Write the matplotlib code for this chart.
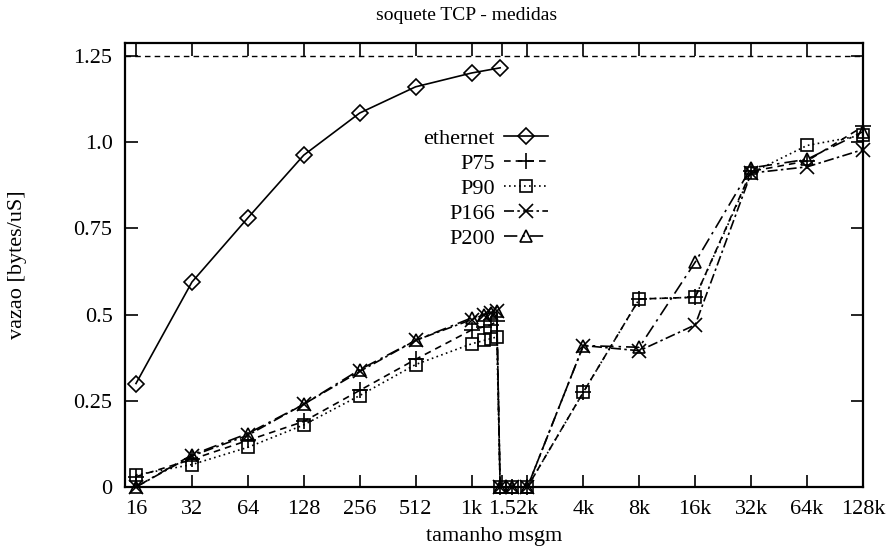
import matplotlib
matplotlib.use('Agg')
import matplotlib.pyplot as plt

plt.rcParams['font.family'] = ['Liberation Serif', 'DejaVu Serif']

# ---- data ----
sizes_eth = [16, 32, 64, 128, 256, 512, 1024, 1460]
ethernet = [0.30, 0.594, 0.78, 0.962, 1.084, 1.16, 1.20, 1.215]

sizes = [16, 32, 64, 128, 256, 512, 1024, 1200, 1300, 1400, 1460, 1700, 2048,
         4096, 8192, 16384, 32768, 65536, 131072]
p75 = [0.03, 0.08, 0.135, 0.19, 0.28, 0.37, 0.455, 0.465, 0.47, 0.48, 0.0, 0.0, 0.0,
       0.275, 0.545, 0.55, 0.915, 0.945, 1.045]
p90 = [0.035, 0.065, 0.115, 0.18, 0.265, 0.355, 0.415, 0.425, 0.43, 0.435, 0.0, 0.0, 0.0,
       0.275, 0.545, 0.55, 0.91, 0.99, 1.02]
p166 = [0.0, 0.09, 0.15, 0.24, 0.335, 0.425, 0.485, 0.50, 0.505, 0.51, 0.0, 0.0, 0.0,
        0.41, 0.395, 0.47, 0.91, 0.928, 0.978]
p200 = [0.0, 0.093, 0.155, 0.24, 0.34, 0.425, 0.49, 0.50, 0.505, 0.51, 0.0, 0.0, 0.0,
        0.41, 0.405, 0.652, 0.925, 0.95, 1.03]

limit_value = 1.25

tick_sizes = [16, 32, 64, 128, 256, 512, 1024, 1500, 2048, 4096, 8192, 16384,
              32768, 65536, 131072]
tick_labels = ['16', '32', '64', '128', '256', '512', '1k', '1.5', '2k', '4k', '8k',
               '16k', '32k', '64k', '128k']
y_ticks = [0, 0.25, 0.5, 0.75, 1.0, 1.25]
y_tick_labels = ['0', '0.25', '0.5', '0.75', '1.0', '1.25']

# ---- figure ----
W, H = 891, 549
fig = plt.figure(figsize=(W/100, H/100), dpi=100)
ax = fig.add_axes([125/W, 1-487/H, (863-125)/W, (487-43)/H])

ax.set_xscale('log', base=2)
ax.set_xlim(16*2**(-11/56), 131072)
ax.set_ylim(0, 1.287)

ax.axhline(limit_value, color='black', lw=1.0, ls=(0, (4, 3)))

kw = dict(color='black', lw=1.2, clip_on=False, mfc='none', mec='black', mew=1.2)
ax.plot(sizes_eth, ethernet, ls='-', marker='D', ms=8, label='ethernet', **kw)
ax.plot(sizes, p75, ls=(0, (4, 3)), marker='+', ms=11, label='P75', **kw)
ax.plot(sizes, p90, ls=(0, (1, 2)), marker='s', ms=9, label='P90', **kw)
ax.plot(sizes, p166, ls=(0, (6, 2, 1.5, 2)), marker='x', ms=10, label='P166', **kw)
ax.plot(sizes, p200, ls=(0, (8, 3, 1.5, 3)), marker='^', ms=9, label='P200', **kw)

ax.set_xticks(tick_sizes)
ax.set_xticklabels(tick_labels)
ax.minorticks_off()
ax.set_yticks(y_ticks)
ax.set_yticklabels(y_tick_labels)
ax.tick_params(direction='in', top=True, right=True, length=9, width=1.2,
               labelsize=16)
ax.tick_params(axis='x', pad=9)
ax.tick_params(axis='y', pad=9)
for s in ax.spines.values():
    s.set_linewidth(1.6)

fig.text(467/W, 1-15/H, 'soquete TCP - medidas', fontsize=14,
         ha='center', va='center')
fig.text(494/W, 1-537/H, 'tamanho msgm', fontsize=16, ha='center', va='center')
fig.text(18/W, 1-265/H, 'vazao [bytes/uS]', fontsize=16, ha='center', va='center',
         rotation=90)

leg = ax.legend(loc='upper right', bbox_to_anchor=(548/W, 1-128/H),
                bbox_transform=fig.transFigure, frameon=False, markerfirst=False,
                fontsize=16, handlelength=2.0, handletextpad=0.4, labelspacing=0.2,
                borderpad=0, borderaxespad=0, numpoints=1)
for t in leg.get_texts():
    t.set_ha('right')

fig.savefig('out.png', dpi=100)
